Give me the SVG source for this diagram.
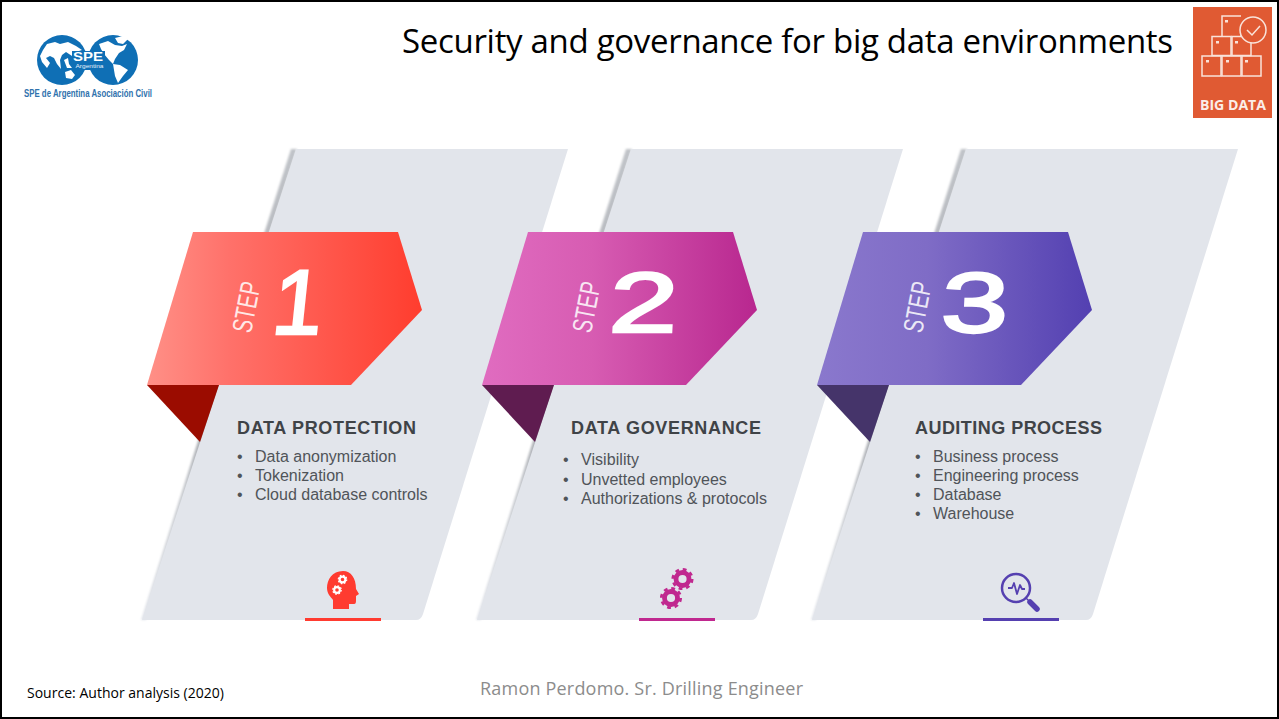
<svg xmlns="http://www.w3.org/2000/svg" width="1279" height="719" viewBox="0 0 1279 719">
<style>
.sans{font-family:"Liberation Sans",Arial,sans-serif}
.open{font-family:"Open Sans","Noto Sans",sans-serif}
.head{font-family:"Liberation Sans",Arial,sans-serif;font-size:18px;font-weight:bold;fill:#3f4347}
.item{font-family:"Liberation Sans",Arial,sans-serif;font-size:16px;fill:#505459}
.step{font-family:"Liberation Sans",Arial,sans-serif;font-size:28px;fill:#fff;fill-opacity:.85}
.num{font-family:"Liberation Sans",Arial,sans-serif;fill:#fff;stroke:#fff;stroke-width:2.600}
.card{fill:#e2e5eb}
.edge{fill:url(#ed)}
.box{fill:none;stroke:#f9e3da;stroke-width:1.5}
</style>
<defs>
<linearGradient id="ed" x1="0" y1="0" x2="0" y2="1"><stop offset="0" stop-color="#c0c3c8"/><stop offset=".6" stop-color="#a8abb0"/><stop offset=".72" stop-color="#c5c8cd"/><stop offset="1" stop-color="#e2e5eb"/></linearGradient>
<filter id="soft" x="-50%" y="-5%" width="200%" height="110%"><feGaussianBlur stdDeviation=".8"/></filter>
<linearGradient id="g1" gradientUnits="userSpaceOnUse" x1="147" y1="0" x2="422" y2="0"><stop offset="0" stop-color="#ff9087"/><stop offset=".3" stop-color="#ff716a"/><stop offset="1" stop-color="#ff3d2e"/></linearGradient>
<linearGradient id="g2" gradientUnits="userSpaceOnUse" x1="482" y1="0" x2="757" y2="0"><stop offset="0" stop-color="#e06cc0"/><stop offset=".4" stop-color="#d75cb2"/><stop offset="1" stop-color="#b8278f"/></linearGradient>
<linearGradient id="g3" gradientUnits="userSpaceOnUse" x1="817" y1="0" x2="1092" y2="0"><stop offset="0" stop-color="#8a78cd"/><stop offset=".4" stop-color="#7f6cc6"/><stop offset="1" stop-color="#5340b1"/></linearGradient>
<g id="gear"><circle r="6.2" fill="none" stroke="currentColor" stroke-width="4.6"/><circle r="9.200" fill="none" stroke="currentColor" stroke-width="2.600" stroke-dasharray="3.6 3.62"/></g>
</defs>
<rect width="1279" height="719" fill="#fff"/>

<g id="card1">
<path class="edge" filter="url(#soft)" d="M291 149H297L146 620H141Z"/>
<path class="card" d="M296 149H568L423 614Q421 620 416 620H142Z"/>
</g>
<g id="card2">
<path class="edge" filter="url(#soft)" d="M626 149H632L481 620H476Z"/>
<path class="card" d="M631 149H903L758 614Q756 620 751 620H477Z"/>
</g>
<g id="card3">
<path class="edge" filter="url(#soft)" d="M961 149H967L816 620H811Z"/>
<path class="card" d="M966 149H1238L1093 614Q1091 620 1086 620H812Z"/>
</g>

<g id="step1">
<path fill="#9b0c00" d="M147 385H219L200 442Z"/>
<path fill="url(#g1)" d="M193 232H398L422 310L351 385H147Z"/>
<text class="step" transform="translate(251 334) rotate(-79) scale(.7 1)">STEP</text>
<text class="num" font-size="92" transform="translate(270 334) skewX(-6) scale(.98 1)">1</text>
<text class="head" x="237" y="434" textLength="179">DATA PROTECTION</text>
<g class="item">
<text x="237" y="462">•</text><text x="255" y="462">Data anonymization</text>
<text x="237" y="481">•</text><text x="255" y="481">Tokenization</text>
<text x="237" y="500">•</text><text x="255" y="500">Cloud database controls</text>
</g>
<path fill="#ff3b30" d="M343 571C332 571 327 580 327 588C327 594 331 597 333 600V609H349V604H354C356 604 356 602 356 600V596L359 594L356 589C356 578 351 571 343 571Z"/>
<use href="#gear" transform="translate(342.500 579.500) scale(.46)" color="#fff"/>
<use href="#gear" transform="translate(337 590) scale(.46)" color="#fff"/>
<rect x="305" y="618" width="76" height="3" fill="#ff3b30"/>
</g>

<g id="step2">
<path fill="#5f1c50" d="M482 385H554L535 442Z"/>
<path fill="url(#g2)" d="M528 232H733L757 310L686 385H482Z"/>
<text class="step" transform="translate(591 334) rotate(-79) scale(.7 1)">STEP</text>
<text class="num" font-size="85" transform="translate(608 332) skewX(-3) scale(1.45 1)">2</text>
<text class="head" x="571" y="434" textLength="190">DATA GOVERNANCE</text>
<g class="item">
<text x="563" y="465">•</text><text x="581" y="465" textLength="58">Visibility</text>
<text x="563" y="485">•</text><text x="581" y="485">Unvetted employees</text>
<text x="563" y="504">•</text><text x="581" y="504">Authorizations &amp; protocols</text>
</g>
<use href="#gear" transform="translate(682.500 579) scale(1.05)" color="#c0288f"/>
<use href="#gear" transform="translate(671 598) scale(1.05)" color="#c0288f"/>
<rect x="639" y="618" width="76" height="3" fill="#c0288f"/>
</g>

<g id="step3">
<path fill="#45346a" d="M817 385H889L870 442Z"/>
<path fill="url(#g3)" d="M863 232H1068L1092 310L1021 385H817Z"/>
<text class="step" transform="translate(922 334) rotate(-79) scale(.7 1)">STEP</text>
<text class="num" font-size="85" transform="translate(940 332) skewX(-3) scale(1.42 1)">3</text>
<text class="head" x="915" y="434" textLength="187">AUDITING PROCESS</text>
<g class="item">
<text x="915" y="462">•</text><text x="933" y="462">Business process</text>
<text x="915" y="481">•</text><text x="933" y="481">Engineering process</text>
<text x="915" y="500">•</text><text x="933" y="500">Database</text>
<text x="915" y="519">•</text><text x="933" y="519">Warehouse</text>
</g>
<circle cx="1016" cy="588" r="14" fill="none" stroke="#5540b0" stroke-width="2.500"/>
<path fill="none" stroke="#5540b0" stroke-width="1.800" stroke-linejoin="round" d="M1008 588H1012L1014 583L1017 594L1020 585L1022 589H1025"/>
<path fill="none" stroke="#5540b0" stroke-width="5.500" stroke-linecap="round" d="M1030 602L1037 609"/>
<path fill="none" stroke="#5540b0" stroke-width="1.500" d="M1026 598L1030 602"/>
<rect x="983" y="618" width="76" height="3" fill="#5540b0"/>
</g>

<g id="logo">
<circle cx="62" cy="60" r="25" fill="#0f6fb5"/>
<circle cx="113" cy="60" r="25" fill="#0f6fb5"/>
<path fill="#fff" d="M47 44L55 42L60 44L68 42L76 46L82 50L76 52L72 56L66 52L62 55L60 60L61 69L57 64L54 58L50 56L46 58L50 63L47 68L42 62L40 56L43 50ZM65 72L71 70L75 75L72 79L66 78ZM64 60L68 58L69 64L72 68L67 68Z"/>
<path fill="#fff" d="M99 44L108 41L115 45L122 46L127 44L124 50L119 53L115 59L113 64L109 60L104 54L101 49ZM113 64L120 65L128 70L123 76L118 83L115 76ZM115 38L123 36L128 39L123 44L118 43Z"/>
<rect x="72" y="51" width="33" height="19" fill="#0f6fb5"/>
<text class="sans" x="88" y="61" font-size="12" font-weight="bold" fill="#fff" text-anchor="middle" textLength="30" lengthAdjust="spacingAndGlyphs">SPE</text>
<text class="sans" x="89.500" y="68" font-size="5.500" fill="#e6f1fa" text-anchor="middle" textLength="28" lengthAdjust="spacingAndGlyphs">Argentina</text>
<text class="sans" x="24" y="96.500" font-size="10" font-weight="bold" fill="#2f72ad" textLength="128" lengthAdjust="spacingAndGlyphs">SPE de Argentina Asociación Civil</text>
</g>

<g id="badge">
<rect x="1193" y="7" width="79" height="111" fill="#e05a33"/>
<g class="box">
<path d="M1241 16H1222V36M1241 30V36"/>
<rect x="1212" y="36.500" width="19" height="19"/>
<path d="M1232 55.500V36.500H1251V55.500Z"/>
<rect x="1202" y="56" width="19" height="20"/>
<rect x="1222" y="56" width="19" height="20"/>
<rect x="1242" y="56" width="19" height="20"/>
</g>
<circle cx="1253" cy="30" r="13" fill="#e05a33" stroke="#f9e3da" stroke-width="1.500"/>
<path fill="none" stroke="#f9e3da" stroke-width="1.500" d="M1247 30L1252 35L1260 26"/>
<g fill="#f9e3da"><rect x="1225" y="20" width="3" height="2.500"/><rect x="1216" y="41" width="3" height="2.500"/><rect x="1235" y="41" width="3" height="2.500"/><rect x="1206" y="60" width="3" height="2.500"/><rect x="1226" y="60" width="3" height="2.500"/><rect x="1245" y="60" width="3" height="2.500"/></g>
<text class="open" x="1200" y="109.500" font-size="14.500" font-weight="bold" fill="#fbeee8" textLength="66" lengthAdjust="spacingAndGlyphs">BIG DATA</text>
</g>

<text class="open" x="402" y="53" font-size="33" fill="#000" textLength="771">Security and governance for big data environments</text>
<text class="open" x="27" y="698" font-size="14" fill="#000" textLength="197">Source: Author analysis (2020)</text>
<text class="open" x="480" y="695" font-size="18" fill="#8c8c8c" textLength="323">Ramon Perdomo. Sr. Drilling Engineer</text>
<rect x="1" y="1" width="1277" height="717" fill="none" stroke="#000" stroke-width="2"/>
</svg>
